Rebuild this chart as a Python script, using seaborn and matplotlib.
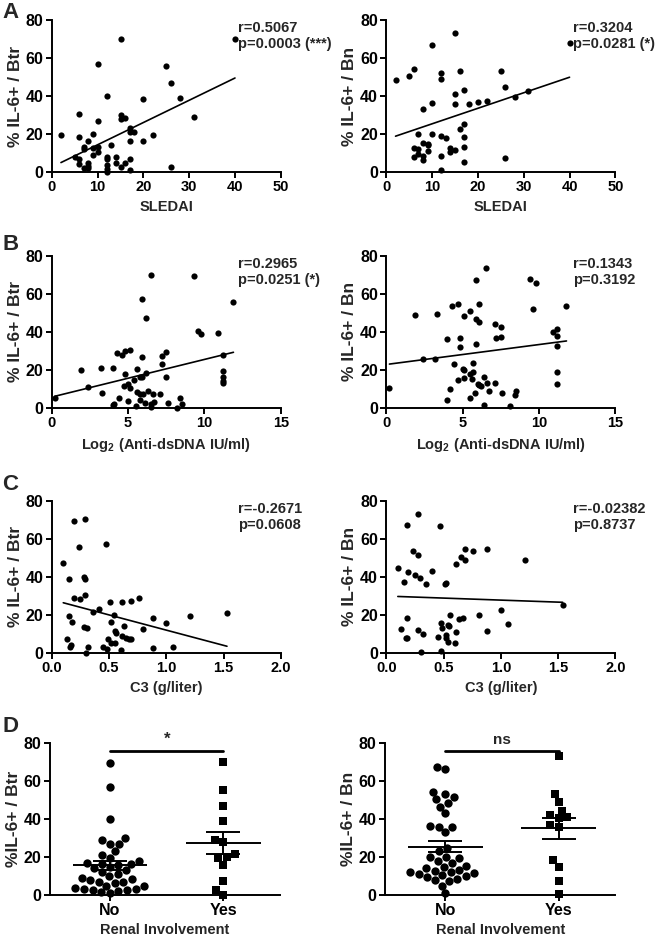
import numpy as np
import matplotlib
matplotlib.use("Agg")
import matplotlib.pyplot as plt
import seaborn as sns

# Panel A: SLEDAI vs % IL-6+ (Btr / Bn)
sledai_btr = [2, 5, 6, 6, 6, 6, 7, 7, 7, 8, 8, 8, 8, 9, 9, 9, 10, 10, 10, 10,
              12, 12, 12, 12, 12, 12, 13, 14, 14, 15, 15, 15, 15, 16, 16, 17, 17, 17, 17, 17,
              18, 20, 20, 22, 25, 26, 26, 28, 31, 40]
btr_a = [19.5, 8, 30.5, 18.5, 7, 4, 13, 12, 2.3, 16.5, 5, 3, 2.3, 20, 12.5, 8.8, 27, 57, 13, 10.5,
         40, 8, 7, 3.5, 1.8, 0, 14, 8, 5, 70, 30, 28, 2.6, 28.5, 5, 23, 21, 16.3, 7, 1.2,
         21, 38.5, 16.3, 19.3, 55.7, 47, 2.6, 39, 29, 69.8]
sledai_bn = [2, 5, 6, 6, 6, 7, 7, 7, 8, 8, 8, 8, 9, 9, 9, 10, 10, 10, 12, 12, 12, 12, 12,
             13, 14, 14, 15, 15, 15, 15, 16, 16, 17, 17, 17, 17, 17, 18, 20, 22, 25, 26, 26, 28, 31, 40]
bn_a = [48.7, 50.6, 54.5, 12.7, 8, 20, 12, 9.7, 33.4, 15.5, 8.6, 6.2, 15, 14.4, 11, 66.8, 36.4, 19.9,
        51.9, 49, 18.8, 8.4, 0.9, 17.9, 12.5, 10.4, 73.3, 41, 35.9, 11.8, 53.3, 22.9,
        43.4, 25.3, 18.5, 13.2, 5.1, 36, 37, 37.4, 53.3, 44.8, 7.6, 39.4, 42.7, 67.7]

# Panel B: Log2 anti-dsDNA
dsdna_btr = [0.2, 1.9, 2.4, 3.2, 3.3, 4.0, 4.0, 4.1, 4.4, 4.3, 4.6, 4.7, 4.8, 4.8, 5.1, 5.0, 5.1, 5.0,
             5.4, 5.5, 5.6, 5.6, 5.8, 5.8, 5.8, 5.9, 5.9, 5.9, 6.0, 6.1, 6.2, 6.2, 6.3, 6.5, 6.5, 6.5,
             6.6, 6.7, 7.1, 7.2, 7.2, 7.5, 7.5, 7.6, 8.2, 8.4, 8.5, 9.3, 9.6, 9.8, 10.9,
             11.2, 11.2, 11.2, 11.2, 11.2, 11.9]
btr_b = [5.2, 19.6, 11, 21.1, 7.5, 21.1, 1.2, 2.1, 5.1, 28.8, 27.6, 11.5, 29.9, 17.8, 30.4, 12.4, 10.5, 3.3,
         14.3, 1, 20.3, 8.2, 16.2, 7, 4, 16, 57.3, 26.7, 7, 2.4, 18.3, 47.3, 8.6, 70, 1.7, 0.5,
         7, 2.8, 7.2, 22.9, 27.1, 29.2, 16.4, 2.6, 0, 4.9, 2.1, 69.3, 40.3, 38.6, 39.1,
         27.9, 19.4, 16.2, 14, 13, 55.5]
dsdna_bn = [0.2, 1.9, 2.4, 3.3, 3.2, 4.0, 4.0, 4.2, 4.3, 4.4, 4.7, 4.7, 4.8, 4.8, 5.0, 5.1, 5.1, 5.1,
            5.5, 5.5, 5.5, 5.7, 5.7, 5.6, 5.8, 5.9, 5.9, 5.9, 6.0, 6.1, 6.1, 6.1, 6.2, 6.4, 6.4,
            6.5, 6.6, 6.7, 7.1, 7.1, 7.2, 7.5, 7.5, 7.6, 8.1, 8.4, 8.5, 9.4, 9.8, 9.6, 10.9,
            11.2, 11.2, 11.2, 11.2, 11.2, 11.8]
bn_b = [10.5, 49, 25.7, 49.4, 25.4, 36.4, 3.9, 10, 53.6, 23.1, 54.6, 14.7, 36.8, 32, 20.3, 20, 15.4, 48.5,
        50.8, 17.9, 5.3, 23.3, 18.7, 15.2, 7.9, 67, 46.9, 33.4, 12.6, 12.1, 54.8, 45, 11.4, 15.9, 1.2,
        73.3, 13.1, 8.8, 43.8, 12.8, 36.6, 42.7, 37.1, 7.9, 0.9, 6.5, 8.9, 67.7, 65.5, 51.8, 39.6,
        41.3, 37.6, 32.4, 18.9, 12.3, 53.4]

# Panel C: C3 (g/liter)
c3_btr = [0.10, 0.15, 0.19, 0.24, 0.29, 0.28, 0.29, 0.29, 0.19, 0.25, 0.47, 0.41, 0.36, 0.51, 0.61,
          0.69, 0.76, 0.54, 0.52, 0.63, 0.15, 0.18, 0.28, 0.31, 0.55, 0.56, 0.80, 0.88, 1.00, 1.21,
          1.53, 0.13, 0.17, 0.16, 0.32, 0.30, 0.49, 0.52, 0.55, 0.45, 0.48, 0.60, 0.61, 0.65, 0.69,
          0.67, 0.88, 1.06]
btr_c = [47.1, 38.7, 69.5, 55.6, 70.3, 40, 38.9, 30.6, 29, 28.1, 57.1, 22.9, 21.3, 26.9, 26.5,
         27.4, 28.7, 20, 16.2, 14.1, 19.3, 16, 13.4, 12.8, 11.2, 10.2, 12.5, 18.3, 15.8, 19.5,
         21.1, 7, 4, 2.8, 2.8, 0, 7, 5, 5, 2.8, 1.8, 1.4, 8.8, 7.5, 7.2,
         7, 2.3, 3.2]
c3_bn = [0.10, 0.15, 0.18, 0.19, 0.23, 0.28, 0.25, 0.29, 0.28, 0.35, 0.40, 0.47, 0.51, 0.52,
         0.61, 0.65, 0.69, 0.69, 0.76, 0.88, 1.21, 1.54, 0.13, 0.17, 0.18, 0.18, 0.28, 0.32,
         0.48, 0.49, 0.45, 0.52, 0.52, 0.54, 0.55, 0.56, 0.63, 0.67, 0.54, 0.60, 0.61, 0.81,
         0.88, 1.00, 1.06, 0.30, 0.48]
bn_c = [44.8, 37.3, 67.3, 42.4, 53.3, 51.5, 41, 39.2, 73.1, 36, 43.2, 66.6, 36.4, 36.7,
        46.6, 50.4, 48.9, 54.5, 53.3, 54.5, 48.7, 25, 12.3, 7.6, 7.6, 18.5, 11.8, 9.7,
        15.5, 13.2, 8.3, 9.3, 7.9, 14.6, 14, 19.7, 17.6, 18.3, 5.8, 5.1, 10.9, 19.7,
        11.4, 22.7, 15.3, 0.5, 0.9]

# Panel D: renal involvement
renal_groups = ["No", "Yes"]
btr_no = [69.5, 57, 40, 30, 29, 27, 27, 23, 21, 19.5, 18, 17, 16.5, 16.5, 16, 15, 14, 13, 12, 11,
          10, 9, 8.5, 8, 7, 7, 6.5, 5, 4.5, 3.5, 3, 3, 2.5, 2.5, 2, 1.5, 1]
btr_yes = [70, 55.5, 47, 39, 29, 28, 21.5, 20, 19.5, 16, 7.5, 2.5, 0]
bn_no = [67.5, 66.5, 54.5, 53, 51.5, 50.5, 48.5, 46.5, 43, 36.5, 36, 36, 33, 25, 23, 20, 20, 19.5,
         18, 17, 15.5, 15, 14, 13, 12.5, 12, 12, 11.5, 11, 10.5, 10, 9.5, 8.5, 8, 7.5, 5, 1]
bn_yes = [73, 53, 49, 44.5, 42, 41, 40.5, 37, 36, 18.5, 15, 7.5, 0.5]

stats = {
    "A0": ("r=0.5067", "p=0.0003 (***)"),
    "A1": ("r=0.3204", "p=0.0281 (*)"),
    "B0": ("r=0.2965", "p=0.0251 (*)"),
    "B1": ("r=0.1343", "p=0.3192"),
    "C0": ("r=-0.2671", "p=0.0608"),
    "C1": ("r=-0.02382", "p=0.8737"),
}

sns.set_style("ticks")
plt.rcParams["font.family"] = ["Liberation Sans", "DejaVu Sans"]
plt.rcParams["font.weight"] = "bold"
plt.rcParams["axes.labelweight"] = "bold"
plt.rcParams["mathtext.fontset"] = "custom"
plt.rcParams["mathtext.rm"] = "Liberation Sans:bold"
plt.rcParams["mathtext.bf"] = "Liberation Sans:bold"

fig = plt.figure(figsize=(6.56, 9.38), dpi=100)

lefts = [0.079, 0.589]
bottoms = {"A": 0.8166, "B": 0.5654, "C": 0.3042, "D": 0.0458}
W, H = 0.349, 0.162


def style_ax(ax):
    sns.despine(ax=ax)
    for s in ["left", "bottom"]:
        ax.spines[s].set_linewidth(1.4)
        ax.spines[s].set_color("black")
    ax.tick_params(axis="both", width=1.4, length=4, colors="black", pad=2)
    ax.tick_params(axis="x", labelsize=10.5)
    ax.tick_params(axis="y", labelsize=11.5)
    for lab in ax.get_xticklabels() + ax.get_yticklabels():
        lab.set_fontweight("bold")


def scatter_panel(ax, x, y, xlim, xticks, xlabel, ylabel, key, fmt):
    sns.regplot(x=np.array(x), y=np.array(y), ax=ax, ci=None, truncate=True, color="black",
                scatter_kws={"s": 20, "alpha": 1, "clip_on": False, "linewidths": 0},
                line_kws={"linewidth": 1.2})
    ax.set_xlim(*xlim)
    ax.set_ylim(0, 80)
    ax.set_xticks(xticks)
    ax.set_xticklabels([fmt.format(t) for t in xticks])
    ax.set_yticks([0, 20, 40, 60, 80])
    ax.set_xlabel(xlabel, fontsize=10.5, fontweight="bold", labelpad=4)
    ax.set_ylabel(ylabel, fontsize=12.5, fontweight="bold", labelpad=2)
    r, p = stats[key]
    ax.text(0.815, 0.945, r, transform=ax.transAxes, fontsize=10.5, fontweight="bold",
            va="center", ha="left")
    ax.text(0.815, 0.84, p, transform=ax.transAxes, fontsize=10.5, fontweight="bold",
            va="center", ha="left")
    style_ax(ax)


log2_label = r"Log$_{\mathbf{2}}$ (Anti-dsDNA IU/ml)"
panels = [
    ("A", sledai_btr, btr_a, sledai_bn, bn_a, (0, 50), [0, 10, 20, 30, 40, 50], "SLEDAI", "{:g}"),
    ("B", dsdna_btr, btr_b, dsdna_bn, bn_b, (0, 15), [0, 5, 10, 15], log2_label, "{:g}"),
    ("C", c3_btr, btr_c, c3_bn, bn_c, (0, 2), [0, 0.5, 1.0, 1.5, 2.0], "C3 (g/liter)", "{:.1f}"),
]
for name, x0, y0, x1, y1, xlim, xticks, xlabel, fmt in panels:
    ax0 = fig.add_axes([lefts[0], bottoms[name], W, H])
    scatter_panel(ax0, x0, y0, xlim, xticks, xlabel, "% IL-6+ / Btr", name + "0", fmt)
    ax1 = fig.add_axes([lefts[1], bottoms[name], W, H])
    scatter_panel(ax1, x1, y1, xlim, xticks, xlabel, "% IL-6+ / Bn", name + "1", fmt)


def renal_panel(ax, no_vals, yes_vals, ylabel, sig):
    sns.swarmplot(x=["No"] * len(no_vals), y=no_vals, order=renal_groups, ax=ax,
                  color="black", marker="o", size=6, clip_on=False)
    sns.swarmplot(x=["Yes"] * len(yes_vals), y=yes_vals, order=renal_groups, ax=ax,
                  color="black", marker="s", size=6, clip_on=False)
    for i, vals in enumerate([no_vals, yes_vals]):
        v = np.array(vals)
        m = v.mean()
        se = v.std(ddof=1) / np.sqrt(len(v))
        ax.hlines(m, i - 0.33, i + 0.33, color="black", linewidth=1.4)
        ax.hlines([m - se, m + se], i - 0.15, i + 0.15, color="black", linewidth=1.4)
        ax.vlines(i, m - se, m + se, color="black", linewidth=1.4)
    ax.plot([0, 1], [76, 76], color="black", linewidth=2, clip_on=False)
    ax.text(0.5, 78, sig, ha="center", va="bottom", fontsize=12 if sig == "*" else 11,
            fontweight="bold")
    ax.set_xlim(-0.53, 1.5)
    ax.set_ylim(0, 80)
    ax.set_yticks([0, 20, 40, 60, 80])
    ax.set_xlabel("Renal Involvement", fontsize=10.5, fontweight="bold", labelpad=3)
    ax.set_ylabel(ylabel, fontsize=12.5, fontweight="bold", labelpad=2)
    style_ax(ax)
    ax.tick_params(axis="x", labelsize=11.5)


axd0 = fig.add_axes([lefts[0] - 0.003, bottoms["D"], 0.351, H])
renal_panel(axd0, btr_no, btr_yes, "%IL-6+ / Btr", "*")
axd1 = fig.add_axes([lefts[1] - 0.002, bottoms["D"], 0.351, H])
renal_panel(axd1, bn_no, bn_yes, "%IL-6+ / Bn", "ns")

for letter, yy in [("A", 0.9867), ("B", 0.739), ("C", 0.484), ("D", 0.225)]:
    fig.text(0.016, yy, letter, fontsize=16, fontweight="bold", ha="center", va="center")

fig.savefig("out.png", dpi=100)
